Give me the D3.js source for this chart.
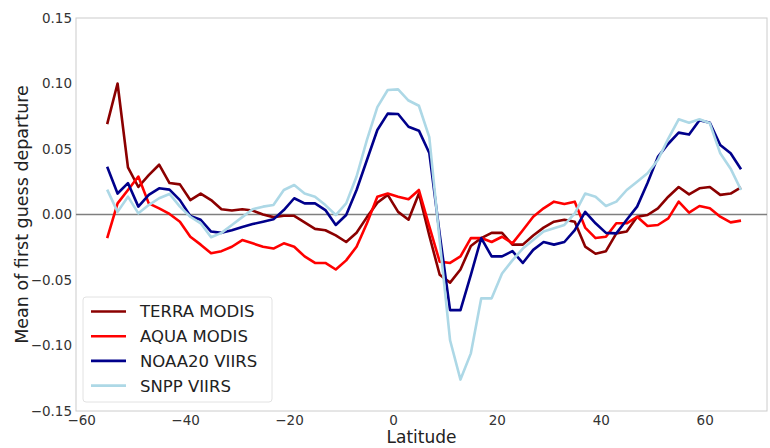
<!DOCTYPE html>
<html>
<head>
<meta charset="utf-8">
<script src="https://cdn.jsdelivr.net/npm/d3@7"></script>
<style>
  html, body { margin: 0; padding: 0; background: #fff; }
  svg { display: block; font-family: "DejaVu Sans", sans-serif; }
</style>
</head>
<body>
<svg id="chart" width="770" height="448"></svg>
<script>
const latitudes = [-55,-53,-51,-49,-47,-45,-43,-41,-39,-37,-35,-33,-31,-29,-27,-25,-23,-21,-19,-17,-15,-13,-11,-9,-7,-5,-3,-1,1,3,5,7,9,11,13,15,17,19,21,23,25,27,29,31,33,35,37,39,41,43,45,47,49,51,53,55,57,59,61,63,65,67];

const terraModis = [0.069,0.100,0.036,0.021,0.030,0.038,0.024,0.023,0.011,0.016,0.011,0.004,0.003,0.004,0.003,0.000,-0.002,-0.001,-0.001,-0.006,-0.011,-0.012,-0.016,-0.021,-0.014,-0.002,0.009,0.015,0.002,-0.004,0.016,-0.016,-0.046,-0.052,-0.042,-0.024,-0.018,-0.014,-0.014,-0.023,-0.023,-0.016,-0.010,-0.0055,-0.004,-0.0055,-0.0245,-0.030,-0.028,-0.0144,-0.013,-0.0017,-0.0004,0.0047,0.0136,0.021,0.0154,0.020,0.021,0.015,0.016,0.0207];

const aquaModis = [-0.018,0.0085,0.0187,0.029,0.0085,0.0047,0.0004,-0.0055,-0.017,-0.023,-0.0296,-0.028,-0.0246,-0.0195,-0.022,-0.0246,-0.026,-0.022,-0.0246,-0.032,-0.037,-0.037,-0.042,-0.035,-0.0246,-0.0067,0.0136,0.016,0.0136,0.0116,0.0187,-0.009,-0.036,-0.037,-0.032,-0.018,-0.018,-0.021,-0.017,-0.022,-0.012,-0.0017,0.0047,0.0098,0.008,0.0098,-0.010,-0.018,-0.017,-0.0067,-0.0067,-0.0017,-0.0088,-0.008,-0.003,0.0098,0.0014,0.0065,0.0047,-0.0017,-0.006,-0.0047];

const noaa20Viirs = [0.0365,0.016,0.024,0.006,0.015,0.020,0.019,0.011,-0.0011,-0.004,-0.013,-0.014,-0.012,-0.0095,-0.0073,-0.0055,-0.0037,0.0034,0.0124,0.0085,0.0085,0.0034,-0.008,-0.0004,0.0187,0.0416,0.0645,0.077,0.0767,0.067,0.064,0.047,-0.015,-0.073,-0.073,-0.046,-0.018,-0.032,-0.032,-0.028,-0.037,-0.027,-0.021,-0.023,-0.021,-0.012,0.002,-0.0067,-0.014,-0.0144,-0.004,0.006,0.024,0.044,0.054,0.0625,0.061,0.072,0.070,0.053,0.0467,0.0345];

const snppViirs = [0.019,0.002,0.0136,0.0009,0.0072,0.0124,0.0157,0.006,-0.0017,-0.0067,-0.0174,-0.014,-0.008,-0.002,0.004,0.006,0.0072,0.0187,0.0225,0.016,0.0136,0.0072,-0.0004,0.0085,0.029,0.057,0.082,0.095,0.0955,0.087,0.083,0.059,-0.02,-0.096,-0.126,-0.106,-0.064,-0.064,-0.045,-0.035,-0.026,-0.0195,-0.013,-0.0105,-0.008,0.0009,0.016,0.0136,0.0065,0.0098,0.0187,0.025,0.0315,0.0416,0.058,0.0727,0.070,0.0727,0.0696,0.0467,0.035,0.0187];

const seriesNames = ["TERRA MODIS", "AQUA MODIS", "NOAA20 VIIRS", "SNPP VIIRS"];
const seriesValues = [terraModis, aquaModis, noaa20Viirs, snppViirs];
const seriesColors = ["#8b0000", "#ff0000", "#00008b", "#add8e6"];

const xTicks = [-60, -40, -20, 0, 20, 40, 60];
const yTicks = [-0.15, -0.10, -0.05, 0.00, 0.05, 0.10, 0.15];

const svg = d3.select("#chart");
const L = 76, R = 767, T = 18, B = 411;

const x = d3.scaleLinear().domain([-61, 72]).range([L, R]);
const y = d3.scaleLinear().domain([-0.15, 0.15]).range([B, T]);

// frame
svg.append("rect").attr("x", L).attr("y", T).attr("width", R - L).attr("height", B - T)
  .attr("fill", "none").attr("stroke", "#cccccc").attr("stroke-width", 1);

// axes
const xAxis = d3.axisBottom(x).tickValues(xTicks).tickSize(0).tickPadding(4)
  .tickFormat(d => d3.format("d")(d).replace("-", "\u2212"));
const gx = svg.append("g").attr("transform", `translate(0,${B})`).call(xAxis);
gx.select(".domain").remove();
gx.selectAll("text").attr("font-size", 13.5).attr("fill", "#333").attr("dy", "0.71em")
  .attr("font-family", "DejaVu Sans");

const yAxis = d3.axisLeft(y).tickValues(yTicks).tickSize(0).tickPadding(4)
  .tickFormat(d => d3.format(".2f")(d).replace("-", "\u2212"));
const gy = svg.append("g").attr("transform", `translate(${L},0)`).call(yAxis);
gy.select(".domain").remove();
gy.selectAll("text").attr("font-size", 13.5).attr("fill", "#333").attr("font-family", "DejaVu Sans");

// zero line
svg.append("line").attr("x1", L).attr("x2", R).attr("y1", y(0)).attr("y2", y(0))
  .attr("stroke", "#7f7f7f").attr("stroke-width", 1.5);

// series
const line = d3.line().x((d, i) => x(latitudes[i])).y(d => y(d));
seriesValues.forEach((vals, k) => {
  svg.append("path").datum(vals).attr("d", line)
    .attr("fill", "none").attr("stroke", seriesColors[k]).attr("stroke-width", 2.6)
    .attr("stroke-linejoin", "round");
});

// labels
svg.append("text").attr("x", (L + R) / 2).attr("y", 443).attr("text-anchor", "middle")
  .attr("font-size", 17).attr("fill", "#222").text("Latitude");
svg.append("text").attr("transform", `translate(28,${(T + B) / 2}) rotate(-90)`)
  .attr("text-anchor", "middle").attr("font-size", 17.5).attr("fill", "#222")
  .text("Mean of first guess departure");

// legend
const lg = svg.append("g");
lg.append("rect").attr("x", 83).attr("y", 297).attr("width", 189).attr("height", 105)
  .attr("rx", 3).attr("fill", "#fff").attr("fill-opacity", 0.85).attr("stroke", "#e2e2e2").attr("stroke-width", 1);
seriesNames.forEach((name, k) => {
  const yy = 311.5 + k * 24.7;
  lg.append("line").attr("x1", 91).attr("x2", 126).attr("y1", yy).attr("y2", yy)
    .attr("stroke", seriesColors[k]).attr("stroke-width", 2.6);
  lg.append("text").attr("x", 140).attr("y", yy).attr("dy", "0.36em")
    .attr("font-size", 16.5).attr("fill", "#222").text(name);
});
</script>
</body>
</html>
